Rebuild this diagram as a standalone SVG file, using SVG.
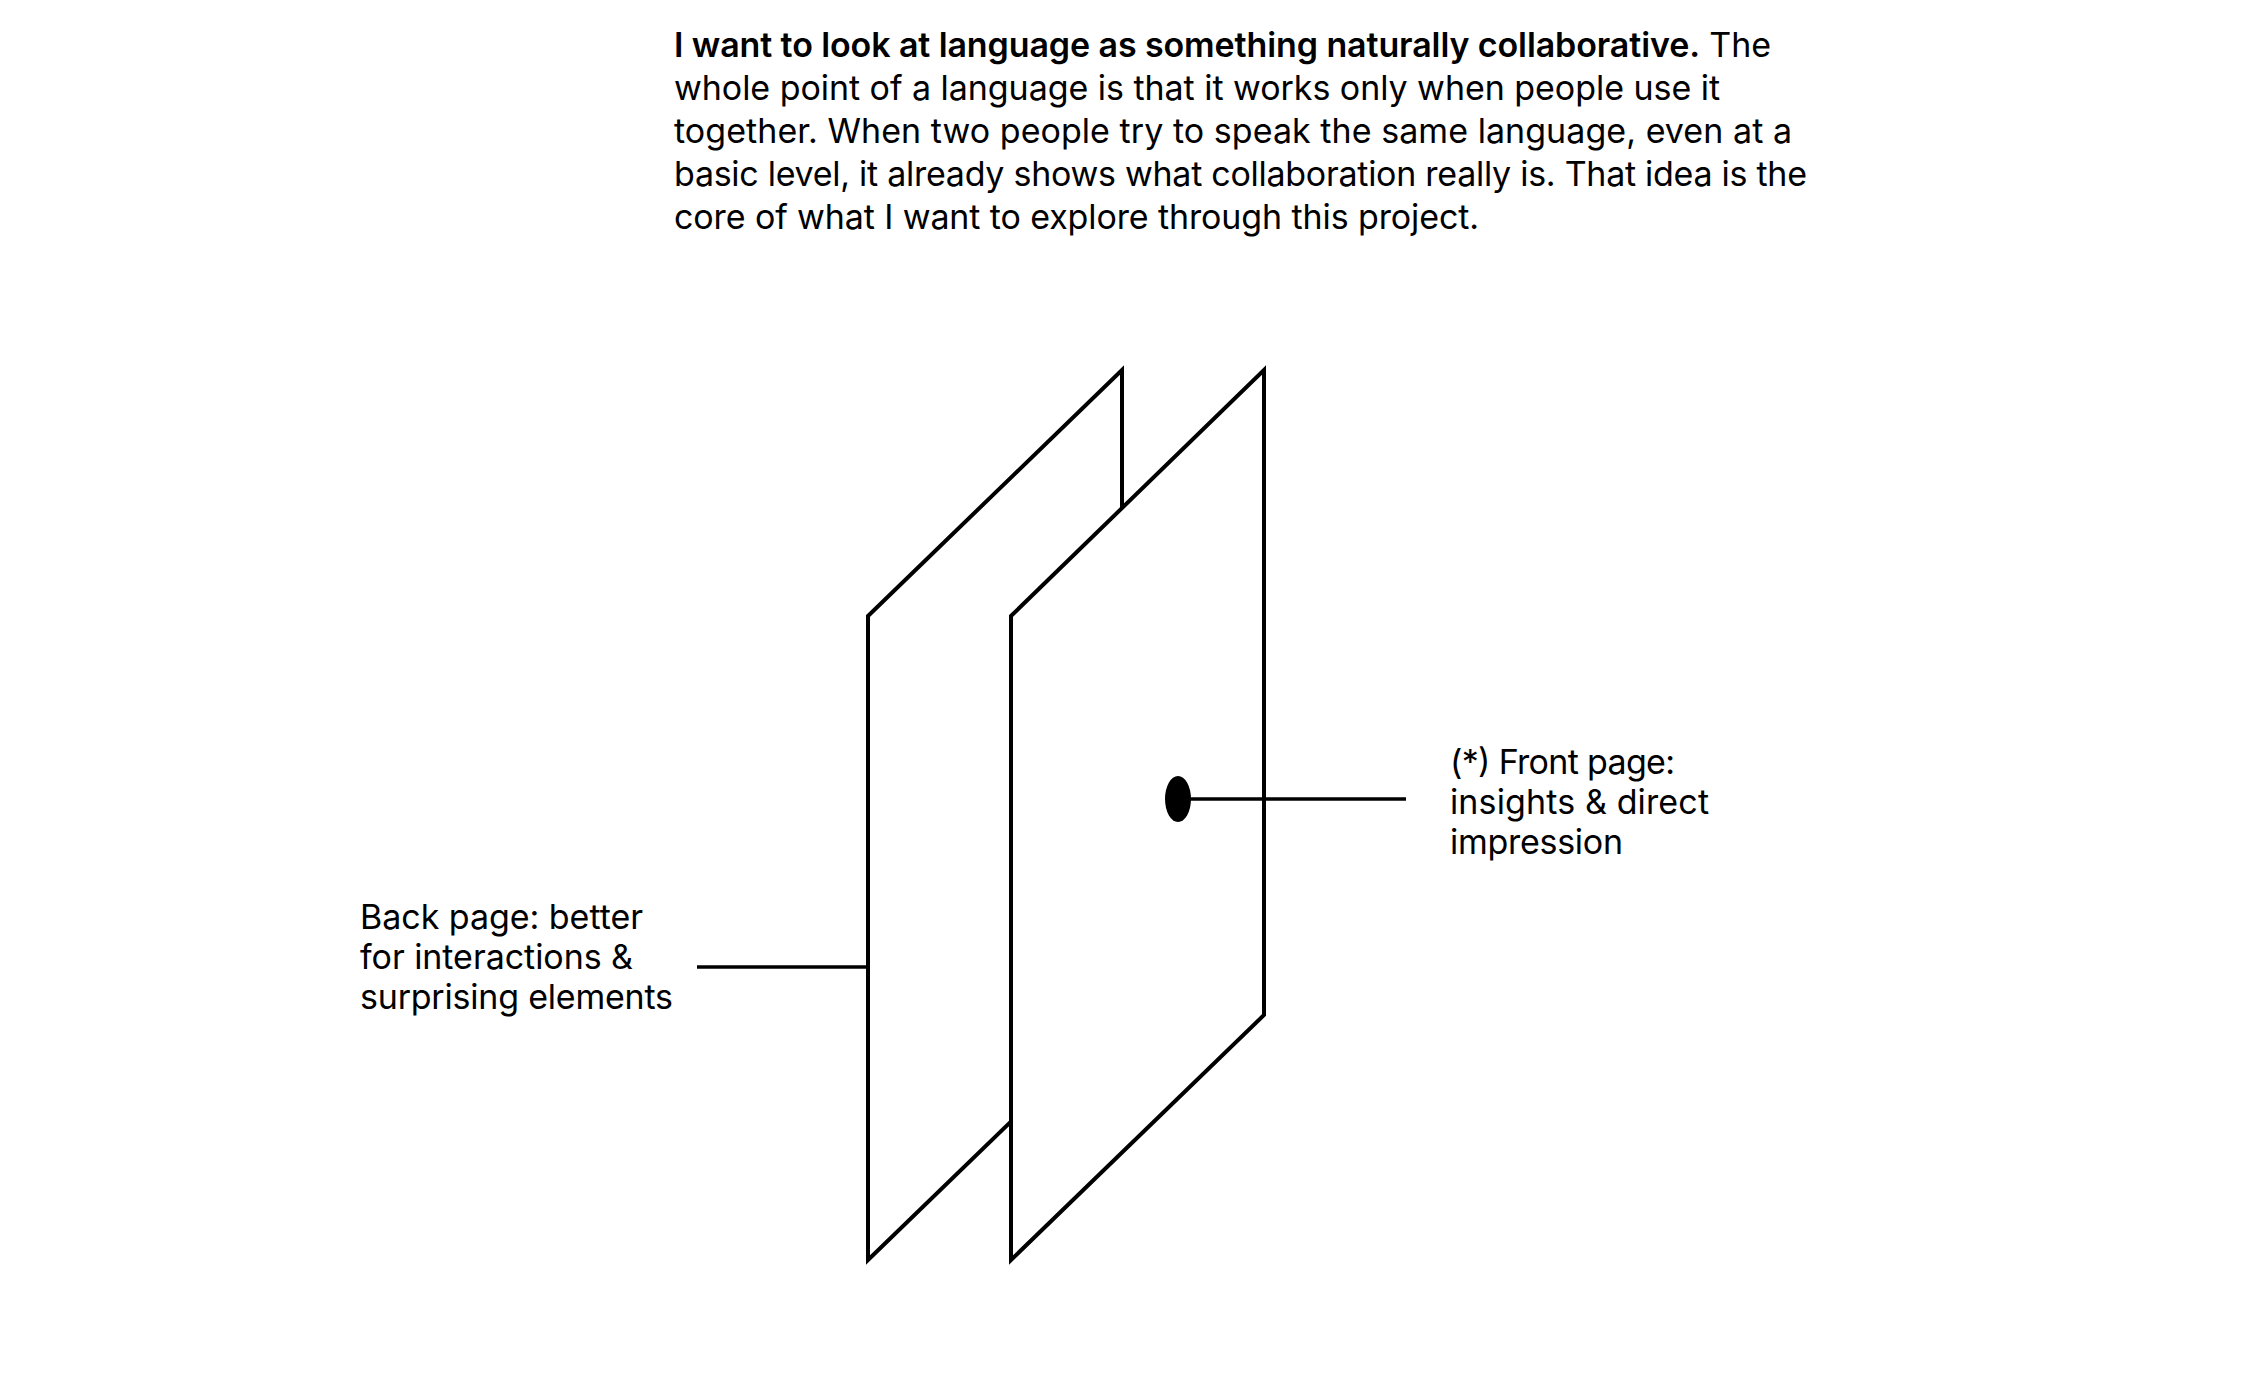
<svg xmlns="http://www.w3.org/2000/svg" width="2250" height="1376" viewBox="0 0 2250 1376">
<style>
.t{font-family:Inter,"Liberation Sans",Arial,sans-serif;font-size:34px;fill:#000}
.b{font-weight:600}
.pg{fill:#fff;stroke:#000;stroke-width:4;stroke-linejoin:miter}
.ln{stroke:#000;stroke-width:3.6;fill:none}
</style>
<rect width="2250" height="1376" fill="#fff"/>
<g id="intro">
<text class="t" x="674" y="57" textLength="1097" lengthAdjust="spacing"><tspan class="b">I want to look at language as something naturally collaborative.</tspan> The</text>
<text class="t" x="674" y="100" textLength="1046" lengthAdjust="spacing">whole point of a language is that it works only when people use it</text>
<text class="t" x="674" y="143" textLength="1118" lengthAdjust="spacing">together. When two people try to speak the same language, even at a</text>
<text class="t" x="674" y="186" textLength="1133" lengthAdjust="spacing">basic level, it already shows what collaboration really is. That idea is the</text>
<text class="t" x="674" y="229" textLength="805" lengthAdjust="spacing">core of what I want to explore through this project.</text>
</g>
<g id="back-page">
<path class="pg" d="M868,616 L1122,370 L1122,1014 L868,1260 Z"/>
</g>
<g id="front-page">
<path class="pg" d="M1011,616 L1264,370 L1264,1015 L1011,1260 Z"/>
</g>
<g id="connectors">
<line class="ln" x1="697" y1="967" x2="868" y2="967"/>
<line class="ln" x1="1178" y1="799" x2="1406" y2="799"/>
<ellipse cx="1178" cy="799" rx="13" ry="23" fill="#000"/>
</g>
<g id="back-label">
<text class="t" x="360" y="929" textLength="283" lengthAdjust="spacing">Back page: better</text>
<text class="t" x="360" y="969" textLength="273" lengthAdjust="spacing">for interactions &amp;</text>
<text class="t" x="360" y="1009" textLength="313" lengthAdjust="spacing">surprising elements</text>
</g>
<g id="front-label">
<text class="t" x="1450" y="774" textLength="225" lengthAdjust="spacing">(*) Front page:</text>
<text class="t" x="1450" y="814" textLength="259" lengthAdjust="spacing">insights &amp; direct</text>
<text class="t" x="1450" y="854" textLength="173" lengthAdjust="spacing">impression</text>
</g>
</svg>
